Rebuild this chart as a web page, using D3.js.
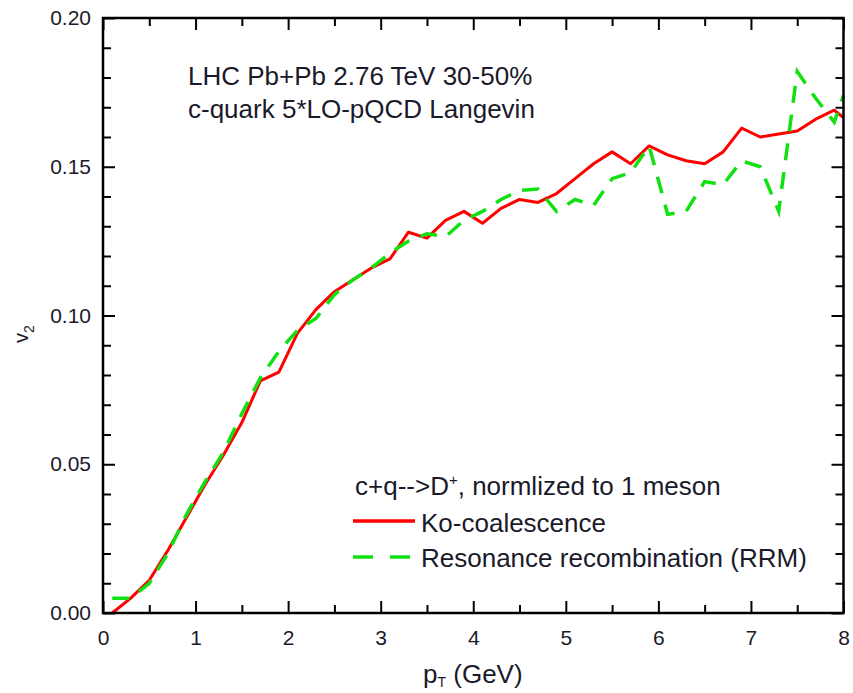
<!DOCTYPE html>
<html>
<head>
<meta charset="utf-8">
<script src="https://cdn.jsdelivr.net/npm/d3@7"></script>
<style>
  body { margin: 0; background: #fff; }
  svg text { font-family: "Liberation Sans", Arial, sans-serif; fill: #1a1a2a; }
</style>
</head>
<body>
<svg width="853" height="693"></svg>
<script>
// pT grid (GeV) and v2 values
let ptValues = [0.1, 0.3, 0.5, 0.7, 0.9, 1.1, 1.3, 1.5, 1.7, 1.9, 2.1, 2.3, 2.5, 2.7, 2.9, 3.1, 3.3, 3.5, 3.7, 3.9,
                4.1, 4.3, 4.5, 4.7, 4.9, 5.1, 5.3, 5.5, 5.7, 5.9, 6.1, 6.3, 6.5, 6.7, 6.9, 7.1, 7.3, 7.5, 7.7, 7.9, 8.0];
let koValues = [0.000, 0.005, 0.011, 0.021, 0.032, 0.043, 0.053, 0.064, 0.078, 0.081, 0.094, 0.102, 0.108, 0.112, 0.116, 0.119, 0.128, 0.126, 0.132, 0.135,
                0.131, 0.136, 0.139, 0.138, 0.141, 0.146, 0.151, 0.155, 0.151, 0.157, 0.154, 0.152, 0.151, 0.155, 0.163, 0.160, 0.161, 0.162, 0.166, 0.169, 0.1665];
let rrmValues = [0.005, 0.005, 0.010, 0.020, 0.033, 0.044, 0.054, 0.067, 0.079, 0.088, 0.095, 0.099, 0.107, 0.112, 0.116, 0.121, 0.125, 0.1275, 0.1265, 0.132,
                 0.135, 0.139, 0.142, 0.1425, 0.135, 0.139, 0.137, 0.146, 0.148, 0.157, 0.134, 0.135, 0.145, 0.144, 0.152, 0.150, 0.135, 0.182, 0.173, 0.165, 0.174];
let xTicks = [0, 1, 2, 3, 4, 5, 6, 7, 8];
let yTicks = [0.00, 0.05, 0.10, 0.15, 0.20];
let annotation = ["LHC Pb+Pb 2.76 TeV 30-50%", "c-quark 5*LO-pQCD Langevin"];
let seriesNames = ["Ko-coalescence", "Resonance recombination (RRM)"];

let svg = d3.select("svg");
let plotLeft = 103, plotRight = 843.5, plotTop = 18, plotBottom = 613;

let x = d3.scaleLinear().domain([0, 8]).range([plotLeft, plotRight]);
let y = d3.scaleLinear().domain([0, 0.2]).range([plotBottom, plotTop]);

let minorX = d3.range(0, 8.01, 0.5).filter(v => Math.abs(v - Math.round(v)) > 0.01);
let minorY = d3.range(0, 0.2001, 0.01).filter(v => Math.abs(v * 20 - Math.round(v * 20)) > 0.01);

// curves
let line = d3.line().x(d => x(d[0])).y(d => y(d[1]));

svg.append("path")
    .datum(ptValues.map((p, i) => [p, koValues[i]]))
    .attr("d", line)
    .attr("fill", "none")
    .attr("stroke", "#ff0000")
    .attr("stroke-width", 3)
    .attr("stroke-linejoin", "round");

svg.append("path")
    .datum(ptValues.map((p, i) => [p, rrmValues[i]]))
    .attr("d", line)
    .attr("fill", "none")
    .attr("stroke", "#11e011")
    .attr("stroke-width", 3.5)
    .attr("stroke-dasharray", "17,12");

// axes (ticks pointing inward on all four sides)
function styleAxis(g) {
    g.select(".domain").remove();
    g.selectAll("line").attr("stroke", "#000").attr("stroke-width", 2);
    g.selectAll("text").style("font-size", "21px").attr("fill", "#1a1a2a");
}

svg.append("g").attr("transform", `translate(0,${plotBottom})`)
    .call(d3.axisBottom(x).tickValues(xTicks).tickSize(-12).tickPadding(17).tickFormat(d3.format("d")))
    .call(styleAxis);
svg.append("g").attr("transform", `translate(0,${plotBottom})`)
    .call(d3.axisBottom(x).tickValues(minorX).tickSize(-8).tickFormat(""))
    .call(styleAxis);
svg.append("g").attr("transform", `translate(0,${plotTop})`)
    .call(d3.axisTop(x).tickValues(xTicks).tickSize(-12).tickFormat(""))
    .call(styleAxis);
svg.append("g").attr("transform", `translate(0,${plotTop})`)
    .call(d3.axisTop(x).tickValues(minorX).tickSize(-8).tickFormat(""))
    .call(styleAxis);

svg.append("g").attr("transform", `translate(${plotLeft},0)`)
    .call(d3.axisLeft(y).tickValues(yTicks).tickSize(-12).tickPadding(12).tickFormat(d3.format(".2f")))
    .call(styleAxis);
svg.append("g").attr("transform", `translate(${plotLeft},0)`)
    .call(d3.axisLeft(y).tickValues(minorY).tickSize(-8).tickFormat(""))
    .call(styleAxis);
svg.append("g").attr("transform", `translate(${plotRight},0)`)
    .call(d3.axisRight(y).tickValues(yTicks).tickSize(-12).tickFormat(""))
    .call(styleAxis);
svg.append("g").attr("transform", `translate(${plotRight},0)`)
    .call(d3.axisRight(y).tickValues(minorY).tickSize(-8).tickFormat(""))
    .call(styleAxis);

// frame
svg.append("rect")
    .attr("x", plotLeft).attr("y", plotTop)
    .attr("width", plotRight - plotLeft).attr("height", plotBottom - plotTop)
    .attr("fill", "none").attr("stroke", "#000").attr("stroke-width", 2.5);

// axis titles
let yTitle = svg.append("text")
    .attr("transform", "translate(28,334) rotate(-90)")
    .attr("text-anchor", "middle")
    .style("font-size", "20px");
yTitle.append("tspan").text("v");
yTitle.append("tspan").attr("dy", 6).style("font-size", "14px").text("2");

let xTitle = svg.append("text")
    .attr("x", 423).attr("y", 683)
    .style("font-size", "26px");
xTitle.append("tspan").text("p");
xTitle.append("tspan").attr("dy", 4).style("font-size", "14px").text("T");
xTitle.append("tspan").attr("dy", -4).text(" (GeV)");

// annotation
svg.selectAll(".annot").data(annotation).enter().append("text")
    .attr("class", "annot")
    .attr("x", 188).attr("y", (d, i) => 85 + i * 33)
    .style("font-size", "26px")
    .text(d => d);

// legend
let header = svg.append("text").attr("x", 355).attr("y", 495).style("font-size", "26px");
header.append("tspan").text("c+q-->D");
header.append("tspan").attr("dy", -10).style("font-size", "15px").text("+");
header.append("tspan").attr("dy", 10).text(", normlized to 1 meson");

svg.append("line").attr("x1", 353).attr("x2", 415).attr("y1", 521).attr("y2", 521)
    .attr("stroke", "#ff0000").attr("stroke-width", 3.5);
svg.append("line").attr("x1", 353).attr("x2", 410).attr("y1", 557).attr("y2", 557)
    .attr("stroke", "#11e011").attr("stroke-width", 3.5).attr("stroke-dasharray", "20,17");

svg.selectAll(".legtext").data(seriesNames).enter().append("text")
    .attr("class", "legtext")
    .attr("x", 421).attr("y", (d, i) => 532 + i * 35)
    .style("font-size", "26px")
    .text(d => d);
</script>
</body>
</html>
